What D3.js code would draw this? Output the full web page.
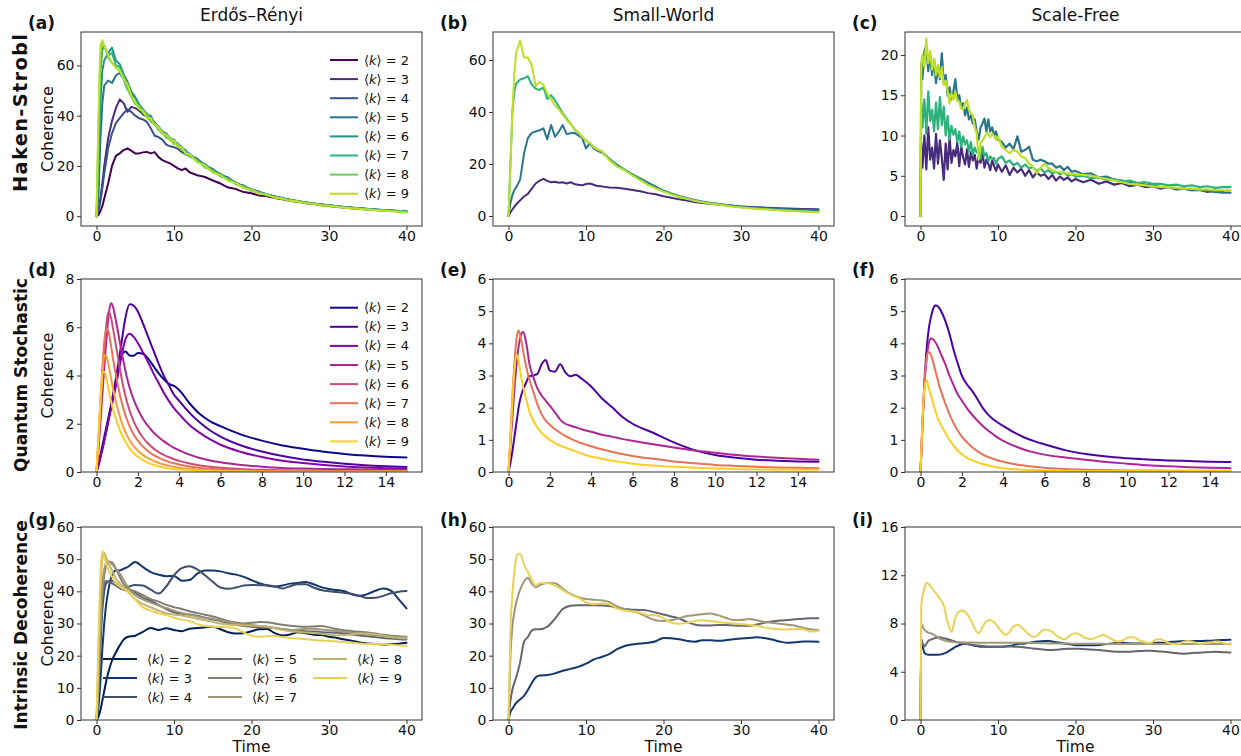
<!DOCTYPE html>
<html>
<head>
<meta charset="utf-8">
<script src="https://cdn.jsdelivr.net/npm/d3@7"></script>
<style>
  body { margin: 0; background: #fff; }
  svg { display: block; }
</style>
</head>
<body>
<svg id="fig" width="1241" height="756"></svg>
<script>
// ---------- labels ----------
const networkTitles = ["Erdős–Rényi", "Small-World", "Scale-Free"];
const modelNames = ["Haken-Strobl", "Quantum Stochastic", "Intrinsic Decoherence"];
const panelLetters = ["(a)", "(b)", "(c)", "(d)", "(e)", "(f)", "(g)", "(h)", "(i)"];
const kAll = [2, 3, 4, 5, 6, 7, 8, 9];
const kOdd = [3, 5, 7, 9];

// ---------- tick labels ----------
const ticksTimeLong = [0, 10, 20, 30, 40];
const ticksTimeShort = [0, 2, 4, 6, 8, 10, 12, 14];
const ticksA = [0, 20, 40, 60];
const ticksB = [0, 20, 40, 60];
const ticksC = [0, 5, 10, 15, 20];
const ticksD = [0, 2, 4, 6, 8];
const ticksEF = [0, 1, 2, 3, 4, 5, 6];
const ticksGH = [0, 10, 20, 30, 40, 50, 60];
const ticksI = [0, 4, 8, 12, 16];

// ---------- time grids ----------
const timeHS = [0,0.25,0.5,0.75,1,1.5,2,2.5,3,3.5,4,4.5,5,5.5,6,6.5,7,7.5,8,8.5,9,9.5,10,10.5,11,11.5,12,13,14,15,16,17,18,19,20,21,22,23,24,25,26,27,28,29,30,32,34,36,38,40];
const timeSF = [0,0.1,0.25,0.5,0.75,1,1.25,1.5,1.75,2,2.25,2.5,2.75,3,3.25,3.5,3.75,4,4.25,4.5,4.75,5,5.25,5.5,5.75,6,6.25,6.5,6.75,7,7.25,7.5,7.75,8,8.25,8.5,8.75,9,9.25,9.5,9.75,10,10.5,11,11.5,12,12.5,13,13.5,14,14.5,15,15.5,16,16.5,17,17.5,18,18.5,19,19.5,20,21,22,23,24,25,26,27,28,29,30,31,32,33,34,35,36,37,38,39,40];
const timeQS = [0,0.1,0.2,0.3,0.4,0.5,0.6,0.7,0.8,0.9,1,1.2,1.4,1.6,1.8,2,2.25,2.5,2.75,3,3.25,3.5,3.75,4,4.5,5,5.5,6,7,8,9,10,11,12,13,14,15];
const timeID = [0,0.25,0.5,0.75,1,1.25,1.5,2,2.5,3,3.5,4,5,6,7,8,9,10,11,12,13,14,15,16,17,18,19,20,21,22,23,24,25,26,27,28,29,30,31,32,33,34,35,36,37,38,39,40];
const timeIDsf = [0,0.1,0.25,0.5,0.75,1,1.5,2,2.5,3,3.5,4,4.5,5,5.5,6,6.5,7,7.5,8,8.5,9,9.5,10,10.5,11,11.5,12,12.5,13,13.5,14,14.5,15,15.5,16,16.5,17,17.5,18,18.5,19,19.5,20,20.5,21,21.5,22,22.5,23,23.5,24,24.5,25,25.5,26,26.5,27,27.5,28,28.5,29,29.5,30,30.5,31,31.5,32,32.5,33,33.5,34,34.5,35,35.5,36,36.5,37,37.5,38,38.5,39,39.5,40];

// ---------- Haken-Strobl coherence ----------
const hsErdosRenyi = [
  [0,0.5,2,4,7, 13,20,24,25,26.3,27,26,25,25,25.4,25.6,25,25.5,23.5,22.3,21.6,21,20,19,18.3,19,17.5, 16.3,15.6,14.2,13,11.4,10.8,9.6,9.1,8.2,7.9,7.2,6.7,6,5.7,5.2,4.9,4.4,4.1, 3.4,2.9,2.5,2.2,1.9],
  [0,2,7,13,20, 31,38,43,46.5,45,41.5,43.5,43,42,40.5,39.5,38,36.5,34.8,33,32.2,30.5,29.8,28,27.2,25.8,24.5, 22.3,20.2,18,16.5,14.8,13.1,11.8,10.5,9.5,8.6,7.8,7.1,6.5,6,5.5,5.1,4.7,4.4, 3.7,3.2,2.7,2.3,2],
  [0,2,6,11,17, 27,33,37,39,41,42.5,41.5,40,39,38.5,37.5,35,32,31.5,30.5,28.5,27.8,27.5,26.8,25.6,24.6,24, 22.2,20.3,18.2,16.6,14.8,13.2,11.8,10.6,9.6,8.6,7.8,7.1,6.5,5.9,5.4,5,4.6,4.3, 3.6,3.1,2.6,2.2,1.8],
  [0,8,30,45,52, 54,53,56,57,54.5,50.5,49.5,45.5,43.5,41.5,41,38.3,37.5,35,34,31.3,30.7,29,29,27,26.3,24.3, 22.9,20.1,18.8,16.4,15.4,12.9,12.2,10.4,9.8,8.5,7.9,7,6.6,5.9,5.6,5,4.8,4.2, 3.6,3.1,2.6,2.2,1.8],
  [0,15,45,58,62, 65,67,62,60.5,56.5,53.5,49.5,47.5,44.5,42.5,40.5,40,36.5,35.8,33.5,33,30.5,30.5,28,27.7,25.5,25, 21.8,20.8,17.9,16.9,14.4,13.5,11.4,10.8,9.3,8.8,7.6,7.3,6.3,6,5.3,5.1,4.5,4.4, 3.6,3.1,2.6,2.2,1.8],
  [0,25,58,66,68, 64,65,60,59.5,55.5,52.5,47.5,46,43.5,42.5,39.5,39,36.5,35.5,32.7,32.5,30,30,27.7,27.3,25.1,24.7, 21.6,20.4,17.6,16.7,14.3,13.3,11.3,10.7,9.2,8.7,7.5,7.2,6.2,6.1,5.3,5.1,4.5,4.4, 3.6,3.1,2.6,2.2,1.8],
  [0,35,65,69,68, 63,61,59.5,57.5,55.5,50.5,47.5,44.5,44,41,41,37.5,37,34.3,34,31.3,31.3,28.7,28.8,26.3,26,23.7, 22.2,19.4,18.2,15.8,14.8,12.6,11.8,10,9.5,8.2,7.8,6.7,6.5,5.6,5.4,4.8,4.6,4.1, 3.5,3,2.5,2.1,1.7],
  [0,40,68,70,68, 64,61,59,58,54.5,52.5,48,45.5,42.5,42,39,39,36.3,35.5,32.7,32.5,30,30.1,27.5,27.5,24.8,24.8, 21.4,20.2,17.3,16.4,14,13.2,11.1,10.5,8.9,8.6,7.3,7,6,5.9,5.1,5,4.3,4.2, 3.4,2.9,2.4,2,1.6]
];
const hsSmallWorld = [
  [0,1.5,2.5,3.5,4.5, 6,7.5,8.5,10.5,12.5,13.5,14.3,13.5,13,13.2,12.8,13,12.5,13,12.3,12,11.8,12.3,12.5,12,11.5,11.4, 11,10.9,10.5,10,9.5,8.8,8.4,7.6,7,6.4,6,5.4,5,4.7,4.4,4.1,3.9,3.7, 3.4,3.1,2.9,2.7,2.6],
  [0,5,8,10,11, 14,24,30,32,32.5,33,33.7,29.5,35,30.5,32.5,35,31.5,31.8,32,31,30,26,28,26,25,24.5, 22,19.8,17.8,16,14.5,12.8,11.3,9.8,8.7,7.7,6.9,6.2,5.6,5.1,4.7,4.3,3.9,3.6, 3.2,2.9,2.6,2.4,2.2],
  [0,20,40,48,51, 52.5,53,53.8,50.5,49,48.5,49.5,45,46.5,44.5,42,39.5,37.5,35.5,33.5,32,30.5,29,28,26.5,25.5,25, 22,19.5,17.8,15.8,14,12.2,10.8,9.5,8.4,7.5,6.7,6,5.4,4.9,4.5,4.1,3.7,3.4, 2.9,2.5,2.1,1.8,1.6],
  [0,20,40,55,63, 67.5,61,61,58,50,51.5,50.5,47,45,42.5,41,39,37,35.3,33.5,32.2,30.5,29,28.2,26.5,25.5,25, 21.5,19,17.5,15.5,13.8,12,10.6,9.4,8.3,7.3,6.6,5.9,5.3,4.8,4.4,4,3.6,3.3, 2.8,2.4,2,1.7,1.4]
];
const hsScaleFree = [
  [0,9, 6,10,5.8,11,7,8.5,5.9,10.2,6.5,9.4,7.2,4.5,9,5.8,9.8,6.6,8.2,7.4,9.1,6.2,8.7,7.3,6.4,8.3,6.1,7.9,6.9,7.6,5.9,7.4,6.6,7.8,6,7,6.5,5.7,6.9,6.2,5.6,
   6.4,5.5,6.3,5.1,6,5.4,5.9,5,5.7,4.8,5.4,5,5.2,4.6,5.1,4.4,4.9,4.5,4.8,4.3,
   4.6,4.2,4.5,4,4.3,3.9,4.1,3.7,3.9,3.6,3.7,3.4,3.6,3.3,3.4,3.2,3.3,3,3.2,3],
  [0,19, 17,20.5,21.2,18,20,17.5,19.5,16.5,18.5,17,20.2,16.5,17.5,15,16,14.5,15.5,17,14.5,15,13.5,14,12.5,13.5,12,12.5,11.5,12,10.5,9.5,11,11.5,12.1,10.5,12,10.5,11,10,10.5,9.5,
   9.2,8.5,9,8.3,9.9,8,8.2,8.6,7,6.8,7,6.8,6.5,6.5,6,6.2,5.7,6.1,5.5,5.6,
   5.2,5.3,4.8,4.9,4.5,4.4,4.2,4.1,3.9,3.8,3.6,3.6,3.4,3.4,3.2,3.2,3.1,3,2.9,2.9],
  [0,14, 11,14.5,10.2,15.5,11.8,13.2,10.5,14.1,10.8,14.8,11.3,13.6,10,12.4,9.5,11.2,10.1,10.8,9.2,10.5,8.6,9.9,8.9,9.4,8,9.2,7.6,8.5,7.9,8.2,7.1,8.6,7.5,7.8,6.8,7.4,7.1,7.2,6.5,7.1,
   7.4,6.6,6.9,6.3,6.6,6,6.4,5.9,6.1,5.6,5.9,5.4,5.7,5.3,5.5,5.2,5.4,5,5.2,4.9,
   5,4.7,4.8,4.5,4.6,4.3,4.4,4.1,4.2,4,4,3.8,3.9,3.7,3.8,3.6,3.7,3.5,3.6,3.6],
  [0,19, 20,18.5,22,19,20.5,18.2,19.5,17.5,18.8,17.2,18.5,16.3,16.8,15.5,14,15.2,14.5,15.4,14.3,14.2,13.4,13.2,14,14.4,13.2,12.8,12.5,11,10.3,7,9,9.4,9.8,10.2,10.3,9.8,10.2,9.9,9.5,9.9,
   8.6,8.2,7.8,8.2,8,7.4,7.2,6.5,6.2,5.3,6,6.5,6,5.7,5.5,5.5,5.3,5.3,5.2,5.2,
   5.1,5,4.8,4.6,4.4,4.2,4,3.9,3.8,3.7,3.6,3.6,3.5,3.4,3.4,3.3,3.3,3.2,3.2,3.2]
];

// ---------- Quantum stochastic coherence ----------
const qsErdosRenyi = [
  [0,0.35,0.75,1.15,1.55,1.95,2.35,2.75,3.15,3.55,3.95, 4.8,5.0,4.83,4.82,4.93, 4.9,4.7,4.4,4.1,3.85,3.65,3.57,3.4, 2.85,2.4,2.1,1.9, 1.55,1.3,1.1,0.96,0.84,0.75,0.68,0.63,0.6],
  [0,0.3,0.65,1.0,1.4,1.8,2.25,2.7,3.2,3.7,4.2, 5.3,6.4,6.95,6.9,6.65, 6.15,5.6,5.05,4.5,4.0,3.6,3.2,2.95, 2.45,2.05,1.72,1.47, 1.1,0.85,0.66,0.52,0.42,0.34,0.28,0.24,0.21],
  [0,0.3,0.65,1.0,1.4,1.8,2.2,2.6,3.0,3.4,3.85, 4.75,5.5,5.73,5.6,5.35, 4.95,4.55,4.1,3.7,3.3,2.95,2.65,2.4, 1.95,1.62,1.35,1.13, 0.83,0.62,0.47,0.37,0.29,0.23,0.19,0.16,0.14],
  [0,1.0,2.2,3.4,4.6,5.7,6.6,7.0,6.85,6.45,6.0, 5.05,4.2,3.5,3.0,2.6, 2.2,1.9,1.65,1.45,1.28,1.13,1.0,0.9, 0.72,0.58,0.48,0.4, 0.29,0.22,0.17,0.14,0.12,0.11,0.1,0.09,0.08],
  [0,1.2,2.6,4.0,5.3,6.3,6.65,6.4,5.95,5.45,4.95, 3.95,3.15,2.55,2.1,1.75, 1.42,1.18,0.98,0.83,0.71,0.61,0.53,0.46, 0.35,0.27,0.22,0.18, 0.12,0.09,0.07,0.06,0.05,0.04,0.04,0.03,0.03],
  [0,1.4,3.0,4.5,5.6,5.95,5.75,5.25,4.7,4.2,3.75, 2.95,2.35,1.9,1.55,1.3, 1.05,0.86,0.71,0.6,0.5,0.42,0.36,0.31, 0.23,0.17,0.13,0.1, 0.07,0.05,0.04,0.03,0.03,0.02,0.02,0.02,0.02],
  [0,1.5,3.1,4.3,4.85,4.75,4.35,3.9,3.45,3.05,2.7, 2.1,1.65,1.32,1.07,0.88, 0.7,0.56,0.46,0.38,0.31,0.26,0.22,0.18, 0.13,0.09,0.07,0.05, 0.03,0.02,0.02,0.01,0.01,0.01,0.01,0.01,0.01],
  [0,1.6,3.1,4.15,4.15,3.8,3.35,2.95,2.6,2.3,2.05, 1.6,1.25,0.98,0.78,0.63, 0.49,0.38,0.3,0.24,0.19,0.15,0.12,0.1, 0.07,0.05,0.04,0.03, 0.02,0.01,0.01,0.01,0.01,0.01,0.01,0.01,0.01]
];
const qsSmallWorld = [
  [0,0.3,0.7,1.15,1.6,2.05,2.35,2.55,2.7,2.85,2.97, 3.0,3.05,3.35,3.48,3.15, 3.12,3.35,3.1,2.98,3.02,2.92,2.8,2.66, 2.3,2.02,1.72,1.5, 1.22,0.92,0.68,0.53,0.44,0.38,0.35,0.33,0.32],
  [0,0.9,1.8,2.7,3.4,3.95,4.25,4.35,4.2,3.85,3.4, 2.95,2.6,2.38,2.22,2.06, 1.85,1.63,1.5,1.44,1.39,1.34,1.29,1.25, 1.16,1.1,1.03,0.97, 0.86,0.76,0.67,0.6,0.53,0.48,0.44,0.41,0.38],
  [0,1.2,2.5,3.5,4.2,4.4,4.15,3.8,3.45,3.15,2.9, 2.5,2.1,1.8,1.6,1.47, 1.33,1.22,1.12,1.04,0.97,0.9,0.85,0.8, 0.71,0.63,0.56,0.5, 0.41,0.33,0.27,0.22,0.19,0.16,0.14,0.13,0.12],
  [0,1.1,2.3,3.3,3.65,3.4,3.0,2.68,2.4,2.15,1.9, 1.6,1.38,1.22,1.1,1.0, 0.9,0.82,0.76,0.7,0.64,0.58,0.52,0.48, 0.41,0.35,0.3,0.26, 0.2,0.16,0.13,0.11,0.09,0.08,0.08,0.07,0.07]
];
const qsScaleFree = [
  [0,1.6,2.9,3.85,4.45,4.8,5.05,5.18,5.17,5.1,5.0, 4.7,4.3,3.8,3.38,3.0, 2.72,2.52,2.27,2.0,1.8,1.65,1.53,1.43, 1.24,1.08,0.96,0.86, 0.68,0.56,0.48,0.43,0.39,0.36,0.34,0.32,0.31],
  [0,1.5,2.8,3.55,4.0,4.15,4.13,4.05,3.95,3.8,3.65, 3.35,3.0,2.7,2.42,2.22, 1.98,1.78,1.6,1.44,1.3,1.18,1.06,0.97, 0.82,0.7,0.61,0.54, 0.45,0.38,0.31,0.26,0.21,0.18,0.15,0.13,0.12],
  [0,1.5,2.8,3.55,3.73,3.65,3.45,3.2,2.95,2.7,2.5, 2.13,1.8,1.52,1.29,1.1, 0.92,0.77,0.65,0.55,0.47,0.41,0.36,0.32, 0.25,0.2,0.16,0.13, 0.09,0.07,0.06,0.05,0.05,0.04,0.04,0.04,0.04],
  [0,1.7,2.65,2.85,2.6,2.4,2.17,1.95,1.75,1.58,1.45, 1.22,1.0,0.82,0.67,0.55, 0.44,0.36,0.3,0.25,0.21,0.17,0.14,0.12, 0.09,0.07,0.06,0.05, 0.04,0.03,0.03,0.03,0.03,0.03,0.03,0.03,0.03]
];

// ---------- Intrinsic decoherence coherence ----------
const idErdosRenyi = [
  [0,1,3,6,9,12,14.5, 18.5,21,23.2,25,25.8, 26.2,27.4,28.6,28,28.5,28,27.6,28.4,28.6,28.8,29,28.2,27.3,26.9,27,27.6,28.2,28.3,27,26.3,26.6,27.3,27,26.5,26.4,25.9,25.5,25,24.6,24.1,23.8,23.6,23.5,23.6,23.7,24],
  [0,4,12,22,30,36,40, 45,46.5,46.5,47,47.5, 49.1,47.5,46,45.2,44.7,44.8,43.3,43.5,45.5,46.5,46.5,46.2,45.6,45.2,44.5,43.5,42.5,41.8,41.5,41.8,42.4,42.6,42.9,42.2,41.3,40.7,40.4,40,39,38.6,39.2,40.2,40.9,40.2,37.5,34.7],
  [0,8,22,34,40,42.5,43, 43.3,42.5,41.5,41,41.3, 42,41.8,40.5,39.3,41.5,45,47.2,47.8,46.8,45,43,41.2,40.8,41.2,41.8,42,41.9,41.9,41.5,40.9,41.6,42.2,42.2,41.2,40.4,40,39.8,39.5,39.2,38.5,37.9,38,38.6,39.4,39.9,40.1],
  [0,10,27,38,42.5,43.2,43, 42.5,41.8,41,40.5,40.2, 39.5,38,37,35.8,34.5,33.5,33,32.8,32.4,31.8,31.2,30.8,30.2,29.6,29.2,29,28.8,28.7,28.6,28.3,28,27.8,27.6,27.5,27.3,27.2,27.1,26.9,26.6,26.3,26,25.8,25.5,25.3,25.1,25],
  [0,10,25,38,45,48,49.3, 49,47,44.5,42.2,41, 40,38.8,37.6,36.8,35.8,35.1,34.5,33.8,33.3,32.7,32.2,31.5,30.8,30.3,30,30.2,30.5,30.4,30,29.6,29.3,29.1,29,29.1,29.2,28.8,28.3,27.9,27.6,27.4,27.2,26.9,26.5,26.2,26,25.9],
  [0,12,30,42,47,48.8,49.3, 48.5,47,45.5,43.5,41.5, 38.8,37.5,36.5,35.6,34.8,34,33.3,32.7,32.2,31.8,31.5,31,30.5,30,29.7,29.5,29.2,29,28.6,28.2,27.9,28.1,28.4,28.4,28.1,27.9,27.7,27.4,27.1,26.8,26.5,26.3,26.1,25.9,25.8,25.7],
  [0,20,40,50,52,50.5,49, 46.5,44,42.5,41.2,40, 37.5,36,35,34,33.2,32.8,32.5,32,31.5,31,30.5,30,29.7,29.5,29.4,29.3,29.2,29,28.5,28,27.6,27.4,27.2,27,26.8,26.5,26.3,26.4,26.6,26.9,26.9,26.6,26.2,25.8,25.5,25.3],
  [0,25,45,52.5,51,48.5,47, 44.5,42.5,41.5,40.8,40.3, 37.5,35,34,33.2,32.6,31.8,31.2,30.8,29.8,29.2,29,28.9,28.8,28.4,27.2,26.2,25.9,26,26.1,25.8,25.5,25.3,25.1,24.9,24.7,24.6,24.4,24.2,24,23.8,23.6,23.6,23.6,23.5,23.2,23]
];
const idSmallWorld = [
  [0,2.5,3.5,4.5,5.3,5.9,6.4, 7.5,9.3,11.5,13.2,13.8, 14,14.5,15.3,15.9,16.5,17.5,18.8,19.6,20.5,22,23,23.5,23.8,24,24.5,25.5,25.4,25.1,24.6,24.3,24.8,24.8,24.6,24.8,25.1,25.3,25.5,25.7,25.5,25,24.4,24,24.2,24.4,24.4,24.3],
  [0,6,9.5,11.5,13.3,15.5,18, 24.3,25.8,27.8,28.2,28.2, 29,31.5,34.5,35.5,35.7,35.7,35.7,35.6,35.4,34.9,34.5,34.3,34.2,34,33.4,32.8,32.2,31.6,30.5,29.7,29.4,29.4,29.5,29.5,29.4,29.3,29.3,29.7,30.2,30.6,30.9,31.1,31.3,31.5,31.6,31.6],
  [0,20,29,33.5,36.5,38.8,40.5, 43,44.2,42.4,41.3,41.9, 42.6,42.5,40.8,39.2,38.2,37.6,37.4,37.2,36.7,35.3,34.5,33.8,33.1,31.9,31,30.8,31,31.6,32.3,32.6,32.9,33.1,32.6,31.8,31.1,31.1,31.4,31,30.5,30.2,29.9,29.6,29.3,28.7,28.2,27.9],
  [0,28,39,46,50.5,51.6,51.7, 48.3,46,43.5,41.8,42.5, 42.6,41.8,40.4,39,38,36.6,36,36.3,36,34.7,34,33.7,33.3,32.6,32.6,31.6,30.3,29.9,30.2,30.8,31,30.8,30.5,30.2,30,29.8,29.6,29.3,28.8,28.4,28.2,28.1,28.3,28.2,27.5,27.7]
];
const idScaleFree = [
  [0,6.7,6.2,5.6,5.45,
   5.4,5.4,5.4,5.42,5.5,5.65,5.85,6.07,6.2,6.3,6.3,6.25,6.15,6.1,6.07,6.07,6.07,6.07,6.07,
   6.08,6.1,6.15,6.2,6.3,6.32,6.35,6.4,6.45,6.5,6.52,6.55,6.55,6.5,6.45,6.4,6.35,6.3,6.25,6.2,
   6.2,6.2,6.2,6.2,6.2,6.22,6.25,6.3,6.33,6.36,6.4,6.4,6.38,6.36,6.35,6.35,6.35,6.35,6.36,6.38,
   6.4,6.4,6.42,6.45,6.48,6.5,6.52,6.55,6.55,6.55,6.55,6.55,6.55,6.57,6.58,6.6,6.62,6.63,6.64,6.65],
  [0,6.7,6.4,6.1,6.3,
   6.55,6.7,6.82,6.85,6.78,6.7,6.6,6.5,6.42,6.35,6.3,6.25,6.2,6.17,6.13,6.1,6.08,6.07,6.07,
   6.08,6.1,6.1,6.08,6.07,6.05,6.02,5.98,5.93,5.9,5.86,5.83,5.8,5.8,5.82,5.85,5.88,5.9,5.9,5.9,
   5.9,5.88,5.86,5.84,5.82,5.8,5.77,5.74,5.7,5.67,5.65,5.65,5.65,5.66,5.68,5.7,5.72,5.74,5.75,5.72,
   5.7,5.67,5.65,5.62,5.58,5.55,5.52,5.5,5.52,5.55,5.57,5.58,5.6,5.62,5.64,5.65,5.64,5.62,5.61,5.6],
  [0,8.0,7.8,7.5,7.35,
   7.25,7.15,6.95,6.75,6.6,6.52,6.48,6.45,6.43,6.42,6.42,6.42,6.42,6.41,6.4,6.4,6.4,6.4,6.4,
   6.4,6.4,6.4,6.4,6.4,6.4,6.4,6.39,6.38,6.38,6.37,6.36,6.35,6.35,6.35,6.35,6.35,6.34,6.33,6.33,
   6.33,6.33,6.33,6.32,6.32,6.32,6.32,6.31,6.31,6.31,6.3,6.3,6.3,6.3,6.3,6.3,6.3,6.3,6.3,6.3,
   6.3,6.3,6.3,6.3,6.3,6.3,6.3,6.3,6.3,6.3,6.3,6.3,6.3,6.3,6.3,6.3,6.3,6.3,6.3,6.3],
  [0,9.5,10.2,10.9,11.35,
   11.3,10.9,10.5,10.05,9.5,8.1,7.3,8.5,9.0,9.05,8.8,8.3,7.6,7.2,7.7,8.2,8.3,8.1,7.7,
   7.3,7.05,7.3,7.75,7.9,7.7,7.4,7.1,6.9,6.95,7.3,7.5,7.45,7.3,7.0,6.8,6.7,6.85,7.1,7.2,
   7.1,6.9,6.75,6.7,6.8,6.95,7.05,6.95,6.75,6.6,6.5,6.55,6.75,6.85,6.85,6.7,6.55,6.45,6.35,6.5,
   6.7,6.7,6.55,6.4,6.3,6.3,6.35,6.5,6.55,6.5,6.4,6.35,6.35,6.4,6.45,6.5,6.5,6.4,6.3,6.25]
];

// ---------- layout ----------
const svg = d3.select("#fig");
const FONT = "DejaVu Sans, sans-serif";
const colLeft = [81, 493, 905];
const axW = 341;
const rowTop = [32, 279, 527];
const axH = [194, 193, 193];
const cmaps = [d3.interpolateViridis, d3.interpolatePlasma, d3.interpolateCividis];
const colorFor = (row, k) => cmaps[row]((k - 2) / 7 * 0.9);

const panels = [
  { row: 0, col: 0, t: timeHS, ks: kAll, data: hsErdosRenyi, xDom: [-2, 42], yDom: [-3.9, 73.3], xt: ticksTimeLong, yt: ticksA, curve: d3.curveLinear, lw: 2 },
  { row: 0, col: 1, t: timeHS, ks: kOdd, data: hsSmallWorld, xDom: [-2, 42], yDom: [-3.85, 70.8], xt: ticksTimeLong, yt: ticksB, curve: d3.curveLinear, lw: 2 },
  { row: 0, col: 2, t: timeSF, ks: kOdd, data: hsScaleFree, xDom: [-2, 42], yDom: [-1.24, 22.86], xt: ticksTimeLong, yt: ticksC, curve: d3.curveLinear, lw: 2.2 },
  { row: 1, col: 0, t: timeQS, ks: kAll, data: qsErdosRenyi, xDom: [-0.75, 15.75], yDom: [0, 8], xt: ticksTimeShort, yt: ticksD, curve: d3.curveMonotoneX, lw: 2 },
  { row: 1, col: 1, t: timeQS, ks: kOdd, data: qsSmallWorld, xDom: [-0.75, 15.75], yDom: [0, 6], xt: ticksTimeShort, yt: ticksEF, curve: d3.curveMonotoneX, lw: 2 },
  { row: 1, col: 2, t: timeQS, ks: kOdd, data: qsScaleFree, xDom: [-0.75, 15.75], yDom: [0, 6], xt: ticksTimeShort, yt: ticksEF, curve: d3.curveMonotoneX, lw: 2 },
  { row: 2, col: 0, t: timeID, ks: kAll, data: idErdosRenyi, xDom: [-2, 42], yDom: [0, 60], xt: ticksTimeLong, yt: ticksGH, curve: d3.curveMonotoneX, lw: 2 },
  { row: 2, col: 1, t: timeID, ks: kOdd, data: idSmallWorld, xDom: [-2, 42], yDom: [0, 60], xt: ticksTimeLong, yt: ticksGH, curve: d3.curveMonotoneX, lw: 2 },
  { row: 2, col: 2, t: timeIDsf, ks: kOdd, data: idScaleFree, xDom: [-2, 42], yDom: [0, 16], xt: ticksTimeLong, yt: ticksI, curve: d3.curveMonotoneX, lw: 2 }
];

function legendLabel(sel, k) {
  sel.append("tspan").text("⟨");
  sel.append("tspan").attr("font-style", "italic").text("k");
  sel.append("tspan").text("⟩ = " + k);
}

panels.forEach((p, idx) => {
  const x0 = colLeft[p.col], y0 = rowTop[p.row], h = axH[p.row];
  const x = d3.scaleLinear().domain(p.xDom).range([x0, x0 + axW]);
  const y = d3.scaleLinear().domain(p.yDom).range([y0 + h, y0]);

  const clipId = "clip" + idx;
  svg.append("clipPath").attr("id", clipId)
    .append("rect").attr("x", x0).attr("y", y0).attr("width", axW).attr("height", h);

  const g = svg.append("g").attr("clip-path", `url(#${clipId})`);
  p.data.forEach((vals, i) => {
    const line = d3.line().x((d, j) => x(p.t[j])).y(d => y(d)).curve(p.curve);
    g.append("path")
      .attr("d", line(vals))
      .attr("fill", "none")
      .attr("stroke", colorFor(p.row, p.ks[i]))
      .attr("stroke-width", p.lw)
      .attr("stroke-linejoin", "round")
      .attr("stroke-linecap", "round");
  });

  // axes frame
  svg.append("rect")
    .attr("x", x0).attr("y", y0).attr("width", axW).attr("height", h)
    .attr("fill", "none").attr("stroke", "#333").attr("stroke-width", 1);

  const xa = svg.append("g").attr("transform", `translate(0,${y0 + h})`)
    .call(d3.axisBottom(x).tickValues(p.xt).tickSize(4).tickPadding(1.5).tickFormat(d3.format("d")));
  const ya = svg.append("g").attr("transform", `translate(${x0},0)`)
    .call(d3.axisLeft(y).tickValues(p.yt).tickSize(4).tickPadding(2.5).tickFormat(d3.format("d")));
  [xa, ya].forEach(a => {
    a.select(".domain").remove();
    a.attr("font-size", 14).attr("font-family", FONT);
    a.selectAll("line").attr("stroke", "#333");
    a.selectAll("text").attr("fill", "#111");
  });

  // panel letter
  svg.append("text")
    .attr("x", x0 - 53).attr("y", y0 - 3 + (p.row === 2 ? 2 : 0))
    .attr("font-family", FONT).attr("font-weight", "bold").attr("font-size", 17)
    .attr("fill", "#111").text(panelLetters[idx]);
});

// column titles
networkTitles.forEach((t, c) => {
  svg.append("text")
    .attr("x", colLeft[c] + axW / 2).attr("y", 21)
    .attr("text-anchor", "middle").attr("font-family", FONT).attr("font-size", 17)
    .attr("fill", "#111").text(t);
});

// row labels and y labels
const rowLabelCenter = [113, 375, 625];
const rowLabelSize = [19.5, 17, 17];
modelNames.forEach((name, r) => {
  const lbl = svg.append("text")
    .attr("transform", `translate(26.5,${rowLabelCenter[r]}) rotate(-90)`)
    .attr("text-anchor", "middle").attr("font-family", FONT).attr("font-weight", "bold")
    .attr("font-size", rowLabelSize[r]).attr("fill", "#111")
    .text(name);
  if (r === 0) lbl.attr("textLength", 158).attr("lengthAdjust", "spacing");
  svg.append("text")
    .attr("transform", `translate(52.5,${rowTop[r] + axH[r] / 2}) rotate(-90)`)
    .attr("text-anchor", "middle").attr("font-family", FONT).attr("font-size", 16)
    .attr("fill", "#111").text("Coherence");
});

// x labels on the bottom row
colLeft.forEach(cx => {
  svg.append("text")
    .attr("x", cx + axW / 2).attr("y", 752.3)
    .attr("text-anchor", "middle").attr("font-family", FONT).attr("font-size", 15.5)
    .attr("fill", "#111").text("Time");
});

// legends: single column in the first two rows of the first column
[0, 1].forEach(r => {
  const y0 = r === 0 ? 60 : 307.7;
  kAll.forEach((k, i) => {
    const yy = y0 + i * 19.1;
    svg.append("line").attr("x1", 330).attr("x2", 358).attr("y1", yy).attr("y2", yy)
      .attr("stroke", colorFor(r, k)).attr("stroke-width", 2);
    svg.append("text").attr("x", 364).attr("y", yy + 4.5)
      .attr("font-family", FONT).attr("font-size", 13).attr("fill", "#111")
      .call(s => legendLabel(s, k));
  });
});

// three-column legend in the intrinsic decoherence panel
kAll.forEach((k, i) => {
  const c = Math.floor(i / 3), r = i % 3;
  const lx = [103, 208, 313][c];
  const yy = 659 + r * 19;
  svg.append("line").attr("x1", lx).attr("x2", lx + 34).attr("y1", yy).attr("y2", yy)
    .attr("stroke", colorFor(2, k)).attr("stroke-width", 2);
  svg.append("text").attr("x", lx + 44).attr("y", yy + 4.5)
    .attr("font-family", FONT).attr("font-size", 13).attr("fill", "#111")
    .call(s => legendLabel(s, k));
});
</script>
</body>
</html>
